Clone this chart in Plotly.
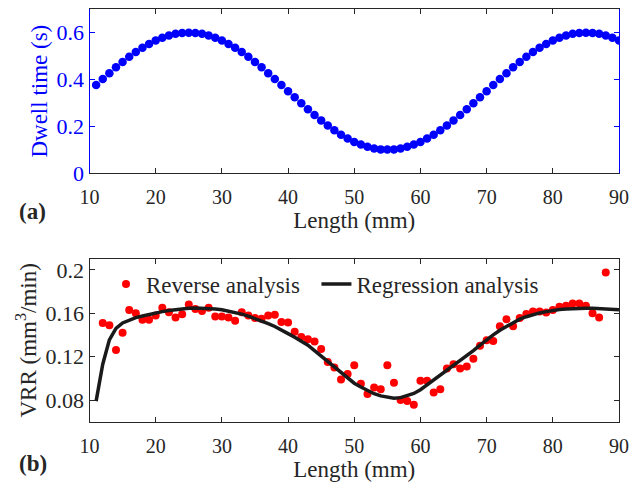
import plotly.graph_objects as go

# ---- data ----
length_top = list(range(11, 91))
dwell_time = [0.376, 0.402, 0.427, 0.452, 0.475, 0.497, 0.517, 0.536, 0.552, 0.567,
              0.578, 0.588, 0.595, 0.599, 0.600, 0.599, 0.595, 0.588, 0.578, 0.567,
              0.552, 0.536, 0.517, 0.497, 0.475, 0.452, 0.427, 0.402, 0.376, 0.350,
              0.324, 0.298, 0.273, 0.248, 0.225, 0.203, 0.183, 0.164, 0.148, 0.133,
              0.122, 0.112, 0.105, 0.101, 0.100, 0.101, 0.105, 0.112, 0.122, 0.133,
              0.148, 0.164, 0.183, 0.203, 0.225, 0.248, 0.273, 0.298, 0.324, 0.350,
              0.376, 0.402, 0.427, 0.452, 0.475, 0.497, 0.517, 0.536, 0.552, 0.567,
              0.578, 0.588, 0.595, 0.599, 0.600, 0.599, 0.595, 0.588, 0.578, 0.567]

length_rev = list(range(12, 89))
vrr_reverse = [0.151, 0.149, 0.126, 0.142, 0.163, 0.160, 0.154, 0.154, 0.158, 0.165,
               0.161, 0.156, 0.159, 0.168, 0.164, 0.162, 0.165, 0.157, 0.157, 0.156,
               0.153, 0.161, 0.158, 0.1555, 0.155, 0.158, 0.1585, 0.152, 0.1514, 0.143,
               0.138, 0.136, 0.134, 0.127, 0.115, 0.110, 0.099, 0.104, 0.112, 0.095,
               0.0855, 0.0915, 0.090, 0.112, 0.096, 0.080, 0.079, 0.0756, 0.0977, 0.0977,
               0.087, 0.090, 0.109, 0.113, 0.109, 0.111, 0.118, 0.130, 0.135, 0.1345,
               0.148, 0.1545, 0.148, 0.1555, 0.1594, 0.1616, 0.1616, 0.1607, 0.163, 0.166,
               0.1668, 0.169, 0.169, 0.1668, 0.160, 0.156, 0.1975]

length_reg = list(range(11, 91))
vrr_regression = [0.079, 0.113, 0.1355, 0.146, 0.151, 0.1535, 0.156, 0.1575, 0.159, 0.1605,
                  0.1615, 0.1625, 0.1633, 0.164, 0.1645, 0.1648, 0.1648, 0.1646, 0.1640, 0.1632,
                  0.1620, 0.1608, 0.1592, 0.1573, 0.1552, 0.1530, 0.1505, 0.1478, 0.1448, 0.1412,
                  0.1378, 0.1342, 0.1305, 0.1255, 0.1205, 0.1155, 0.1100, 0.1045, 0.0995, 0.0955,
                  0.0920, 0.0888, 0.0858, 0.0838, 0.0824, 0.0817, 0.0822, 0.0837, 0.0860, 0.0895,
                  0.0940, 0.0983, 0.1027, 0.1072, 0.1120, 0.1165, 0.1205, 0.1255, 0.1305, 0.1355,
                  0.1400, 0.1443, 0.1480, 0.1515, 0.1545, 0.1568, 0.1588, 0.1603, 0.1615, 0.1627,
                  0.1635, 0.1640, 0.1644, 0.1646, 0.1647, 0.1646, 0.1643, 0.1640, 0.1636, 0.1632]

x_ticks = [10, 20, 30, 40, 50, 60, 70, 80, 90]
top_y_ticks = [0, 0.2, 0.4, 0.6]
bot_y_ticks = [0.08, 0.12, 0.16, 0.2]
bot_y_text = ["0.08", "0.12", "0.16", "0.2"]

# ---- styling ----
W, H = 631, 485
FONT = "Liberation Serif"
DARK = "#262626"
BLUE = "#0000FF"
XTICKSIZE = 20
YTICKSIZE = 22
TITLESIZE = 23
NBSP = "\u00a0"

def px_x(p):
    return p / W

def px_y(p):
    return (H - p) / H

fig = go.Figure()

fig.add_trace(go.Scatter(x=length_top, y=dwell_time, mode="markers",
                         marker=dict(color=BLUE, size=8.5),
                         xaxis="x", yaxis="y", showlegend=False))

fig.add_trace(go.Scatter(x=length_rev, y=vrr_reverse, mode="markers",
                         marker=dict(color="#FF0000", size=8),
                         name="Reverse analysis" + NBSP * 2, xaxis="x2", yaxis="y2"))
fig.add_trace(go.Scatter(x=length_reg, y=vrr_regression, mode="lines",
                         line=dict(color="#1a1a1a", width=3.5),
                         name="Regression analysis", xaxis="x2", yaxis="y2"))

xdom = [px_x(89.5), px_x(619)]
common_x = dict(range=[10, 90], tickvals=x_ticks, ticks="inside", ticklen=5,
                showline=True, linecolor=DARK, linewidth=1, mirror="ticks",
                tickcolor=DARK, showgrid=False, zeroline=False, automargin=False,
                tickfont=dict(family=FONT, size=XTICKSIZE, color=DARK),
                ticklabelstandoff=6,
                title=dict(text="Length (mm)", font=dict(family=FONT, size=TITLESIZE, color=DARK),
                           standoff=4),
                domain=xdom)

fig.update_layout(
    width=W, height=H,
    margin=dict(l=0, r=0, t=0, b=0),
    paper_bgcolor="white", plot_bgcolor="white",
    font=dict(family=FONT, color=DARK),
    xaxis=dict(anchor="y", **common_x),
    yaxis=dict(domain=[px_y(173), px_y(9.3)], range=[0, 0.7], tickvals=top_y_ticks,
               ticks="inside", ticklen=5, showline=True, linecolor=BLUE, linewidth=1,
               mirror="ticks", tickcolor=BLUE, showgrid=False, zeroline=False, automargin=False,
               tickfont=dict(family=FONT, size=YTICKSIZE, color=BLUE),
               title=dict(text="Dwell time (s)", font=dict(family=FONT, size=TITLESIZE, color=BLUE),
                          standoff=2),
               anchor="x"),
    xaxis2=dict(anchor="y2", **common_x),
    yaxis2=dict(domain=[px_y(421.7), px_y(259)], range=[0.06, 0.21], tickvals=bot_y_ticks,
                ticktext=bot_y_text,
                ticks="inside", ticklen=5, showline=True, linecolor=DARK, linewidth=1,
                mirror="ticks", tickcolor=DARK, showgrid=False, zeroline=False, automargin=False,
                tickfont=dict(family=FONT, size=YTICKSIZE, color=DARK),
                title=dict(text="VRR (mm<sup>3</sup>/min)",
                           font=dict(family=FONT, size=TITLESIZE, color=DARK), standoff=2),
                anchor="x2"),
    legend=dict(orientation="h", x=px_x(106), y=px_y(284), xanchor="left", yanchor="middle",
                bgcolor="rgba(0,0,0,0)", font=dict(family=FONT, size=TITLESIZE, color=DARK),
                itemwidth=30, tracegroupgap=0),
    annotations=[
        dict(text="<b>(a)</b>", x=px_x(17), y=px_y(211), xref="paper", yref="paper",
             xanchor="left", yanchor="middle", showarrow=False,
             font=dict(family=FONT, size=TITLESIZE, color=DARK)),
        dict(text="<b>(b)</b>", x=px_x(17), y=px_y(463), xref="paper", yref="paper",
             xanchor="left", yanchor="middle", showarrow=False,
             font=dict(family=FONT, size=TITLESIZE, color=DARK)),
    ],
)

fig.write_html("out.html")
